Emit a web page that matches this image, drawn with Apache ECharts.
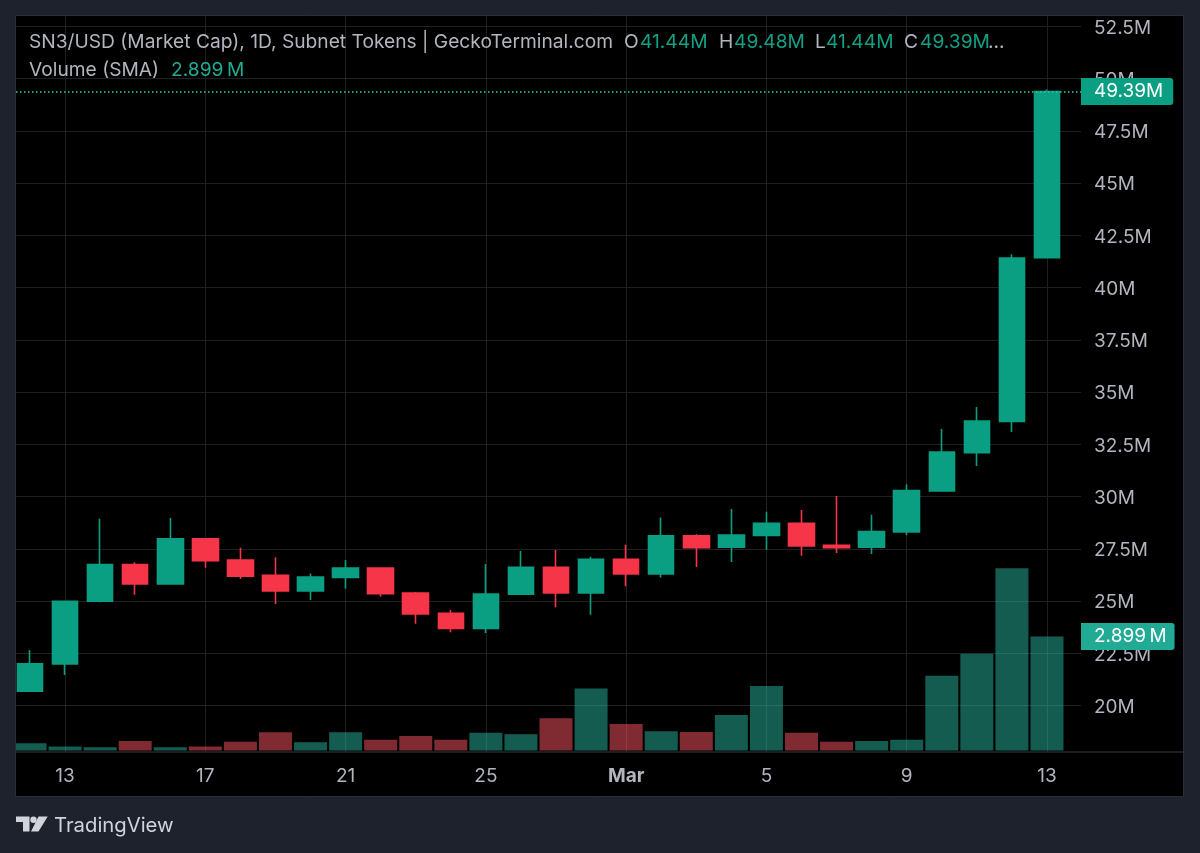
<!DOCTYPE html>
<html><head><meta charset="utf-8">
<style>html,body{margin:0;padding:0;background:#1e222d}#c{width:1200px;height:853px}</style>
<script src="https://cdn.jsdelivr.net/npm/echarts@6/dist/echarts.min.js"></script>
</head><body><div id="c"></div>
<script>
const days = ['12','13','14','15','16','17','18','19','20','21','22','23','24','25','26','27','28','Mar','2','3','4','5','6','7','8','9','10','11','12','13'];
const opens  = [20.69,22.0,25.0,26.75,25.82,27.98,26.97,26.24,25.49,26.14,26.59,25.39,24.42,23.7,25.33,26.62,25.39,27.0,26.3,28.13,27.58,28.15,28.73,27.67,27.58,28.31,30.27,32.1,33.6,41.44];
const closes = [22.0,25.0,26.75,25.82,27.98,26.94,26.2,25.49,26.16,26.59,25.36,24.39,23.7,25.34,26.62,25.39,27.0,26.3,28.13,27.56,28.17,28.73,27.64,27.56,28.33,30.29,32.14,33.62,41.42,49.39];
const lows   = [20.69,21.47,24.95,25.31,25.82,26.6,26.06,24.87,25.06,25.6,25.22,23.92,23.51,23.48,25.33,24.71,24.35,25.71,26.14,26.64,26.88,27.46,27.18,27.31,27.26,28.15,30.27,31.47,33.1,41.44];
const highs  = [22.67,25.0,28.95,26.86,28.98,27.98,27.56,27.1,26.32,26.97,26.59,25.44,24.58,26.78,27.4,27.45,27.13,27.7,29.01,28.2,29.41,29.28,29.36,30.03,29.14,30.59,33.24,34.29,41.6,49.48];
const volumes = [0.18,0.10,0.08,0.24,0.08,0.10,0.22,0.46,0.21,0.46,0.27,0.37,0.27,0.45,0.41,0.82,1.58,0.67,0.49,0.47,0.90,1.64,0.45,0.22,0.24,0.27,1.90,2.46,4.64,2.899];
const priceTicks = [20,22.5,25,27.5,30,32.5,35,37.5,40,42.5,45,47.5,50,52.5];
const dateTicks = [1,5,9,13,17,21,25,29];
const lastPrice = 49.39;
const lastVolume = 2.899;
const legendTitle = 'SN3/USD (Market Cap), 1D, Subnet Tokens | GeckoTerminal.com';
const ohlcLabels = ['O','H','L','C'];
const ohlcValues = ['41.44M','49.48M','41.44M','49.39M'];

const GREEN='#0a9f83', RED='#f63548', FONT='Inter, "Noto Sans", sans-serif', AXIS='#b2b5be', TXT='19.2px '+FONT;
const candleData = days.map((d,i)=>[i,opens[i],closes[i],lows[i],highs[i]]);
const volumeData = days.map((d,i)=>({value:[i,volumes[i]],itemStyle:{color:closes[i]>=opens[i]?'rgba(40,184,160,0.5)':'rgba(255,85,100,0.5)'}}));

const ohlcX=[[624,640],[719,734],[815,826],[904,920]];
const gfx=[
 {type:'rect',z:-10,silent:true,shape:{x:15.5,y:15.5,width:1168,height:781},style:{fill:'#000',stroke:'#2a2e39',lineWidth:1}},
 {type:'rect',z:60,silent:true,shape:{x:0,y:700,width:15,height:60},style:{fill:'#1e222d'}},
 {type:'line',z:61,silent:true,shape:{x1:15.5,y1:700,x2:15.5,y2:760},style:{stroke:'#2a2e39',lineWidth:1}},
 {type:'line',z:5,silent:true,shape:{x1:16,y1:752,x2:1184,y2:752},style:{stroke:'#363a45',lineWidth:1}},
 {type:'text',z:50,x:29,y:42,style:{text:legendTitle,fill:'#b2b5be',font:TXT,textVerticalAlign:'middle'}},
 {type:'text',z:50,x:29,y:70,style:{text:'Volume (SMA)',fill:'#b2b5be',font:TXT,textVerticalAlign:'middle'}},
 {type:'text',z:50,x:171,y:70,style:{text:'2.899\u2009M',fill:'#22ab94',font:TXT,textVerticalAlign:'middle'}},
 {type:'text',z:50,x:988,y:42,style:{text:'...',fill:'#b2b5be',font:TXT,textVerticalAlign:'middle'}},
 {type:'text',z:50,x:54,y:826,style:{text:'TradingView',fill:'#d1d4dc',font:'20.3px '+FONT,textVerticalAlign:'middle'}},
 {type:'polygon',z:50,silent:true,shape:{points:[[16,816.5],[29.5,816.5],[29.5,831.5],[23,831.5],[23,822],[16,822]]},style:{fill:'#d1d4dc'}},
 {type:'circle',z:50,silent:true,shape:{cx:33.5,cy:819.7,r:3.2},style:{fill:'#d1d4dc'}},
 {type:'polygon',z:50,silent:true,shape:{points:[[38.5,816.5],[47.7,816.5],[38.5,831.5],[31,831.5]]},style:{fill:'#d1d4dc'}}
];
ohlcLabels.forEach((l,i)=>{
 gfx.push({type:'text',z:50,x:ohlcX[i][0],y:42,style:{text:l,fill:'#b2b5be',font:TXT,textVerticalAlign:'middle'}});
 gfx.push({type:'text',z:50,x:ohlcX[i][1],y:42,style:{text:ohlcValues[i],fill:'#14a085',font:TXT,textVerticalAlign:'middle'}});
});

const chart=echarts.init(document.getElementById('c'),null,{renderer:'canvas'});
chart.setOption({
 animation:false,
 backgroundColor:'#1e222d',
 graphic:gfx,
 grid:{left:16,top:16,width:1065,height:736,containLabel:false},
 xAxis:{type:'value',min:-0.399,max:29.97,
  axisLine:{show:false},
  axisTick:{show:false,customValues:dateTicks},
  splitLine:{show:true,lineStyle:{color:'#1f2023',width:1}},
  axisLabel:{customValues:dateTicks,margin:15,color:AXIS,fontFamily:FONT,fontSize:19,
   formatter:v=>{const s=days[Math.round(v)];return s==='Mar'?'{b|Mar}':s;},
   rich:{b:{fontWeight:'bold',color:AXIS,fontFamily:FONT,fontSize:19}}}
 },
 yAxis:[
  {type:'value',position:'right',min:17.785,max:53.0,scale:true,
   axisLine:{show:false},axisTick:{show:false,customValues:priceTicks},
   splitLine:{show:true,lineStyle:{color:'#1f2023',width:1}},
   axisLabel:{customValues:priceTicks,margin:13,color:AXIS,fontFamily:FONT,fontSize:19,align:'left',formatter:v=>'{p|'+v+'M}',
    rich:{p:{color:AXIS,fontFamily:FONT,fontSize:19,padding:[3,0,0,0]}}}},
  {type:'value',show:false,min:-0.04,max:18.7,splitLine:{show:false}}
 ],
 series:[
  {type:'bar',xAxisIndex:0,yAxisIndex:1,data:volumeData,barWidth:33,encode:{x:0,y:1},z:2,silent:true,
   markLine:{silent:true,symbol:'none',animation:false,precision:3,lineStyle:{color:'transparent',width:1},
    label:{show:true,position:'end',distance:0,formatter:()=>lastVolume.toFixed(3)+'\u2009M',color:'#fff',fontFamily:FONT,fontSize:19,
     backgroundColor:'#22ab94',padding:[4,8,4,13],borderRadius:[0,3,3,0]},
    data:[{yAxis:lastVolume}]}},
  {type:'candlestick',xAxisIndex:0,yAxisIndex:0,data:candleData,encode:{x:0,y:[1,2,3,4]},barWidth:26,z:3,silent:true,
   itemStyle:{color:GREEN,color0:RED,borderColor:GREEN,borderColor0:RED,borderWidth:1.6},
   markLine:{silent:true,symbol:'none',animation:false,precision:2,lineStyle:{color:'#22d3ac',type:[1.5,2.5],width:1.5},
    label:{show:true,position:'end',distance:0,formatter:()=>lastPrice.toFixed(2)+'M',color:'#fff',fontFamily:FONT,fontSize:19,
     backgroundColor:GREEN,padding:[4,10,4,13],borderRadius:[0,3,3,0]},
    data:[{yAxis:lastPrice}]}}
 ]
});
</script></body></html>
